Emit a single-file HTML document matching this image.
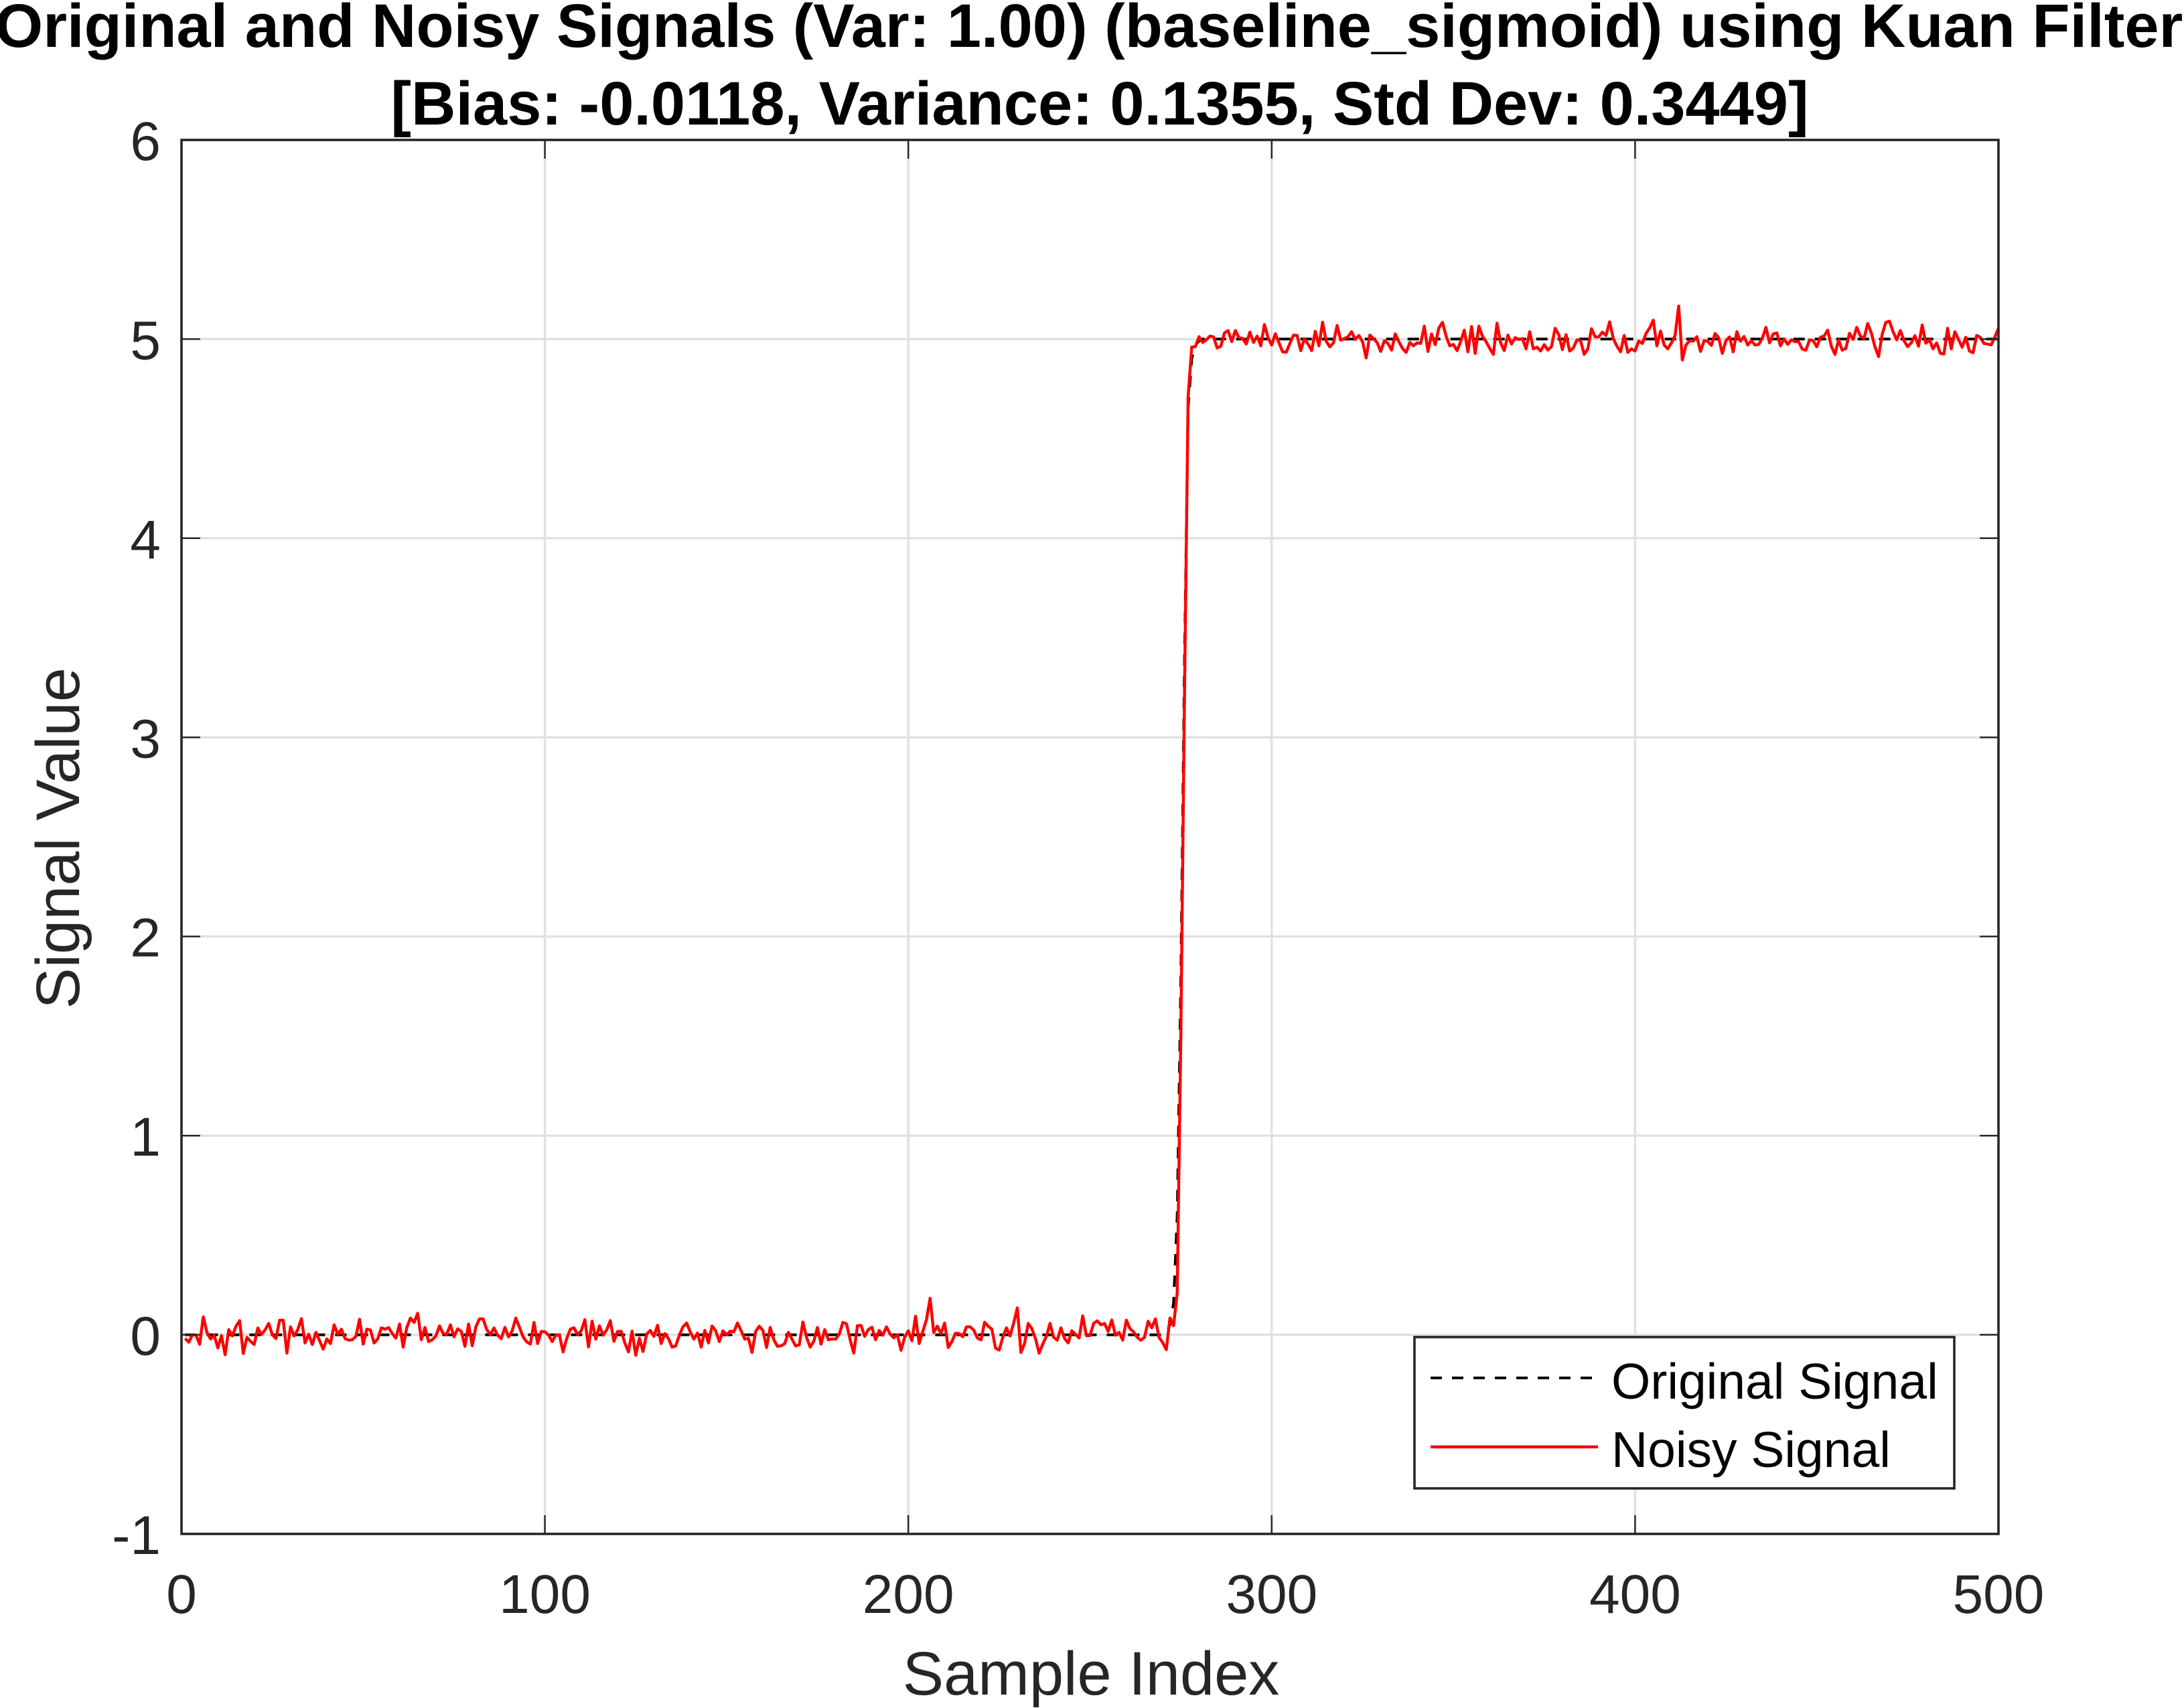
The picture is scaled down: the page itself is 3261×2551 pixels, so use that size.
<!DOCTYPE html>
<html>
<head>
<meta charset="utf-8">
<title>Original and Noisy Signals</title>
<style>
html,body{margin:0;padding:0;background:#fff;width:3261px;height:2551px;overflow:hidden}
svg{display:block}
text{font-family:"Liberation Sans",Arial,sans-serif}
</style>
</head>
<body>
<svg id="chart" xmlns="http://www.w3.org/2000/svg" width="3261" height="2551" viewBox="0 0 3261 2551">
<rect x="0" y="0" width="3261" height="2551" fill="#ffffff"/>
<rect x="271" y="209" width="2713" height="2082" fill="#ffffff"/>
<g id="grid"></g>
<g id="series"></g>
<g id="ticks"></g>
<rect x="271" y="209" width="2713" height="2082" fill="none" stroke="#262626" stroke-width="3.6"/>
<g id="tick-labels"></g>
<text x="1626" y="70" text-anchor="middle" font-size="92" font-weight="bold" fill="#000">Original and Noisy Signals (Var: 1.00) (baseline_sigmoid) using Kuan Filter</text>
<text x="1642" y="186" text-anchor="middle" font-size="92" font-weight="bold" fill="#000">[Bias: -0.0118, Variance: 0.1355, Std Dev: 0.3449]</text>
<text x="1629" y="2531" text-anchor="middle" font-size="92" fill="#262626">Sample Index</text>
<text transform="translate(118,1252) rotate(-90)" text-anchor="middle" font-size="92" fill="#262626">Signal Value</text>
<g>
<rect x="2112" y="1997" width="806" height="226" fill="#ffffff" stroke="#262626" stroke-width="3.6"/>
<line x1="2136" y1="2058" x2="2386" y2="2058" stroke="#000" stroke-width="4" stroke-dasharray="17 15"/>
<text x="2406" y="2089" font-size="75" fill="#000">Original Signal</text>
<line x1="2136" y1="2161" x2="2386" y2="2161" stroke="#ff0000" stroke-width="4.4"/>
<text x="2406" y="2191" font-size="75" fill="#000">Noisy Signal</text>
</g>
</svg>
<script>
const xTicks = [0, 100, 200, 300, 400, 500];
const yTicks = [-1, 0, 1, 2, 3, 4, 5, 6];
const originalSignal = [
0,0,0,0,0,0,0,0,0,0,
0,0,0,0,0,0,0,0,0,0,
0,0,0,0,0,0,0,0,0,0,
0,0,0,0,0,0,0,0,0,0,
0,0,0,0,0,0,0,0,0,0,
0,0,0,0,0,0,0,0,0,0,
0,0,0,0,0,0,0,0,0,0,
0,0,0,0,0,0,0,0,0,0,
0,0,0,0,0,0,0,0,0,0,
0,0,0,0,0,0,0,0,0,0,
0,0,0,0,0,0,0,0,0,0,
0,0,0,0,0,0,0,0,0,0,
0,0,0,0,0,0,0,0,0,0,
0,0,0,0,0,0,0,0,0,0,
0,0,0,0,0,0,0,0,0,0,
0,0,0,0,0,0,0,0,0,0,
0,0,0,0,0,0,0,0,0,0,
0,0,0,0,0,0,0,0,0,0,
0,0,0,0,0,0,0,0,0,0,
0,0,0,0,0,0,0,0,0,0,
0,0,0,0,0,0,0,0,0,0,
0,0,0,0,0,0,0,0,0,0,
0,0,0,0,0,0,0,0,0,0,
0,0,0,0,0,0,0,0,0,0,
0,0,0,0,0,0,0,0,0,0,
0,0,0,0,0,0,0,0,0,0,
0,0,0,0,0,0,0,0,0,0,
0.01,0.05,0.16,0.6,1.8,3.4,4.65,4.9,4.97,4.99,
5,5,5,5,5,5,5,5,5,5,
5,5,5,5,5,5,5,5,5,5,
5,5,5,5,5,5,5,5,5,5,
5,5,5,5,5,5,5,5,5,5,
5,5,5,5,5,5,5,5,5,5,
5,5,5,5,5,5,5,5,5,5,
5,5,5,5,5,5,5,5,5,5,
5,5,5,5,5,5,5,5,5,5,
5,5,5,5,5,5,5,5,5,5,
5,5,5,5,5,5,5,5,5,5,
5,5,5,5,5,5,5,5,5,5,
5,5,5,5,5,5,5,5,5,5,
5,5,5,5,5,5,5,5,5,5,
5,5,5,5,5,5,5,5,5,5,
5,5,5,5,5,5,5,5,5,5,
5,5,5,5,5,5,5,5,5,5,
5,5,5,5,5,5,5,5,5,5,
5,5,5,5,5,5,5,5,5,5,
5,5,5,5,5,5,5,5,5,5,
5,5,5,5,5,5,5,5,5,5,
5,5,5,5,5,5,5,5,5,5,
5,5,5,5,5,5,5,5,5,5
];
const noisySignal = [
-0.019,-0.037,0,-0.002,-0.048,0.090,0.012,-0.021,-0.002,-0.066,
-0.004,-0.100,0.026,-0.006,0.043,0.071,-0.094,-0.013,-0.033,-0.049,
0.034,0.001,0.024,0.057,0,-0.019,0.073,0.073,-0.092,0.040,
-0.006,0.026,0.081,-0.041,0.003,-0.049,0.012,-0.030,-0.072,-0.021,
-0.044,0.050,0.003,0.028,-0.019,-0.027,-0.025,-0.008,0.078,-0.047,
0.028,0.024,-0.041,-0.021,0.035,0.028,0.036,0.006,-0.017,0.054,
-0.062,0.037,0.084,0.062,0.108,-0.025,0.037,-0.034,-0.025,-0.006,
0.045,0.006,0.003,0.050,-0.010,0.030,0.017,-0.058,0.054,-0.055,
0.040,0.080,0.080,0.026,0.001,0.034,-0.002,-0.019,0.037,-0.011,
0.020,0.084,0.037,-0.010,-0.036,-0.047,0.062,-0.044,0.017,0.015,
-0.002,-0.034,-0.002,-0.002,-0.086,-0.019,0.028,0.035,0.001,0.020,
0.076,-0.061,0.068,-0.022,0.045,-0.002,0.024,0.071,-0.033,0.017,
0.017,-0.041,-0.086,0.018,-0.103,-0.017,-0.084,0.003,0.022,-0.008,
0.048,-0.044,0.006,-0.019,-0.062,-0.056,-0.002,0.040,0.059,0.015,
-0.022,0.009,-0.062,0.022,-0.041,0.044,0.020,-0.034,0.020,0,
0.018,0.015,0.059,0.020,-0.022,-0.017,-0.089,0.017,0.043,0.022,
-0.064,0.037,-0.025,-0.058,-0.055,-0.045,0.012,-0.022,-0.056,-0.050,
0.064,-0.013,-0.062,-0.033,0.037,-0.047,0.026,-0.025,-0.021,-0.022,
0.003,0.062,0.055,-0.025,-0.092,0.046,0.047,-0.008,0.026,0.038,
-0.025,0.022,-0.002,0.040,0.003,-0.015,0,-0.078,-0.013,0.020,
-0.030,0.093,-0.044,0.017,0.076,0.183,0.012,0.043,0.006,0.059,
-0.064,-0.034,0.008,0.006,-0.010,0.040,0.040,0.024,-0.016,-0.026,
0.063,0.043,0.028,-0.067,-0.077,-0.013,0.035,-0.006,0.059,0.135,
-0.089,-0.044,0.057,0.031,-0.019,-0.092,-0.047,-0.008,0.057,-0.013,
-0.027,0.035,-0.019,-0.041,0.020,0.003,-0.016,0.095,-0.004,-0.004,
0.057,0.070,0.050,0.057,0.017,0.074,-0.002,0.012,-0.027,0.073,
0.031,0.015,-0.013,-0.027,-0.013,0.068,0.035,0.080,-0.013,-0.039,
-0.075,0.084,0.046,0.21,1.5,3.2,4.71,4.96,4.962,5.012,
4.983,4.996,5.015,5.011,4.955,4.964,5.031,5.043,4.987,5.043,
5.007,5.003,4.975,5.035,4.983,5.015,4.966,5.073,5.007,4.970,
5.027,4.981,4.936,4.934,4.978,5.020,5.018,4.942,5.002,4.975,
4.942,5.039,4.966,5.085,4.989,4.961,4.981,5.068,4.994,5.003,
5.011,5.037,4.998,5.018,4.987,4.905,5.020,5.003,4.983,4.938,
4.992,4.978,4.944,5.026,4.987,4.953,4.933,4.983,4.966,4.981,
4.978,5.065,4.938,5.026,4.972,5.056,5.084,5.015,4.966,4.973,
4.942,4.987,5.045,4.936,5.063,4.928,5.065,5.015,4.987,4.953,
4.923,5.080,4.981,4.942,5.020,4.975,5.007,4.998,5.002,4.951,
5.037,4.951,4.959,4.940,4.972,4.945,4.962,5.054,5.022,4.947,
5.022,4.940,4.955,4.996,4.992,4.923,4.951,5.052,5.011,5.011,
5.035,5.018,5.087,5.003,4.964,4.936,5.018,4.933,4.951,4.940,
4.990,4.978,5.028,5.056,5.095,4.966,5.040,4.970,4.951,4.981,
5.017,5.166,4.895,4.970,4.992,4.990,5.012,4.938,4.992,4.989,
4.968,5.028,5.007,4.928,4.992,5.011,4.936,5.037,4.989,5.013,
4.970,4.992,4.970,4.973,5.003,5.059,4.981,5.026,5.031,4.966,
5.001,4.973,4.996,4.987,4.987,4.950,4.944,4.996,4.992,4.961,
5.009,5.015,5.045,4.964,4.923,4.996,4.944,4.953,5.029,4.998,
5.059,5.015,5.003,5.078,5.031,4.962,4.912,5.024,5.084,5.090,
5.037,4.996,5.043,4.992,4.962,4.981,5.017,4.964,5.071,4.979,
4.996,4.951,4.981,4.928,4.925,5.054,4.951,5.037,4.998,4.959,
5.009,4.940,4.931,5.018,5.009,4.978,4.975,4.971,5.011,5.054
];

const svgNS = 'http://www.w3.org/2000/svg';
const xMin = 0, xMax = 500, yMin = -1, yMax = 6;
const left = 271, right = 2984, top_ = 209, bottom = 2291;
const tickLen = 28;
function xScale(v) { return left + (v - xMin) / (xMax - xMin) * (right - left); }
function yScale(v) { return bottom - (v - yMin) / (yMax - yMin) * (bottom - top_); }
function make(tag, parent, attrs) {
  const el = document.createElementNS(svgNS, tag);
  for (const k in attrs) el.setAttribute(k, attrs[k]);
  document.getElementById(parent).appendChild(el);
  return el;
}
function seriesPath(values) {
  return values.map(function (v, i) {
    return (i ? 'L' : 'M') + xScale(i + 1).toFixed(2) + ' ' + yScale(v).toFixed(2);
  }).join('');
}

xTicks.forEach(function (t) {
  const x = xScale(t);
  if (t !== xMin && t !== xMax) {
    const g = make('line', 'grid', { x1: x, x2: x, y1: top_, y2: bottom, stroke: '#e0e0e0', 'stroke-width': 3.4 });
    
    
    const a = make('line', 'ticks', { x1: x, x2: x, y1: bottom, y2: bottom - tickLen, stroke: '#262626', 'stroke-width': 2.4 });
    
    
    const b = make('line', 'ticks', { x1: x, x2: x, y1: top_, y2: top_ + tickLen, stroke: '#262626', 'stroke-width': 2.4 });
    
    
  }
  const label = make('text', 'tick-labels', { x: x, y: 2409, 'text-anchor': 'middle', 'font-size': 82, fill: '#262626' });
  
  
  label.textContent = String(t);
});

yTicks.forEach(function (t) {
  const y = yScale(t);
  if (t !== yMin && t !== yMax) {
    const g = make('line', 'grid', { x1: left, x2: right, y1: y, y2: y, stroke: '#e0e0e0', 'stroke-width': 3.4 });
    
    
    const a = make('line', 'ticks', { x1: left, x2: left + tickLen, y1: y, y2: y, stroke: '#262626', 'stroke-width': 2.4 });
    
    
    const b = make('line', 'ticks', { x1: right, x2: right - tickLen, y1: y, y2: y, stroke: '#262626', 'stroke-width': 2.4 });
    
    
  }
  const label = make('text', 'tick-labels', { x: 240, y: y + 30, 'text-anchor': 'end', 'font-size': 82, fill: '#262626' });
  
  
  label.textContent = String(t);
});

const originalLine = make('path', 'series', { d: seriesPath(originalSignal), fill: 'none', stroke: '#000000', 'stroke-width': 4, 'stroke-dasharray': '17 15', 'stroke-linejoin': 'round' });



const noisyLine = make('path', 'series', { d: seriesPath(noisySignal), fill: 'none', stroke: '#ff0000', 'stroke-width': 4.4, 'stroke-linejoin': 'round' });


</script>
</body>
</html>
